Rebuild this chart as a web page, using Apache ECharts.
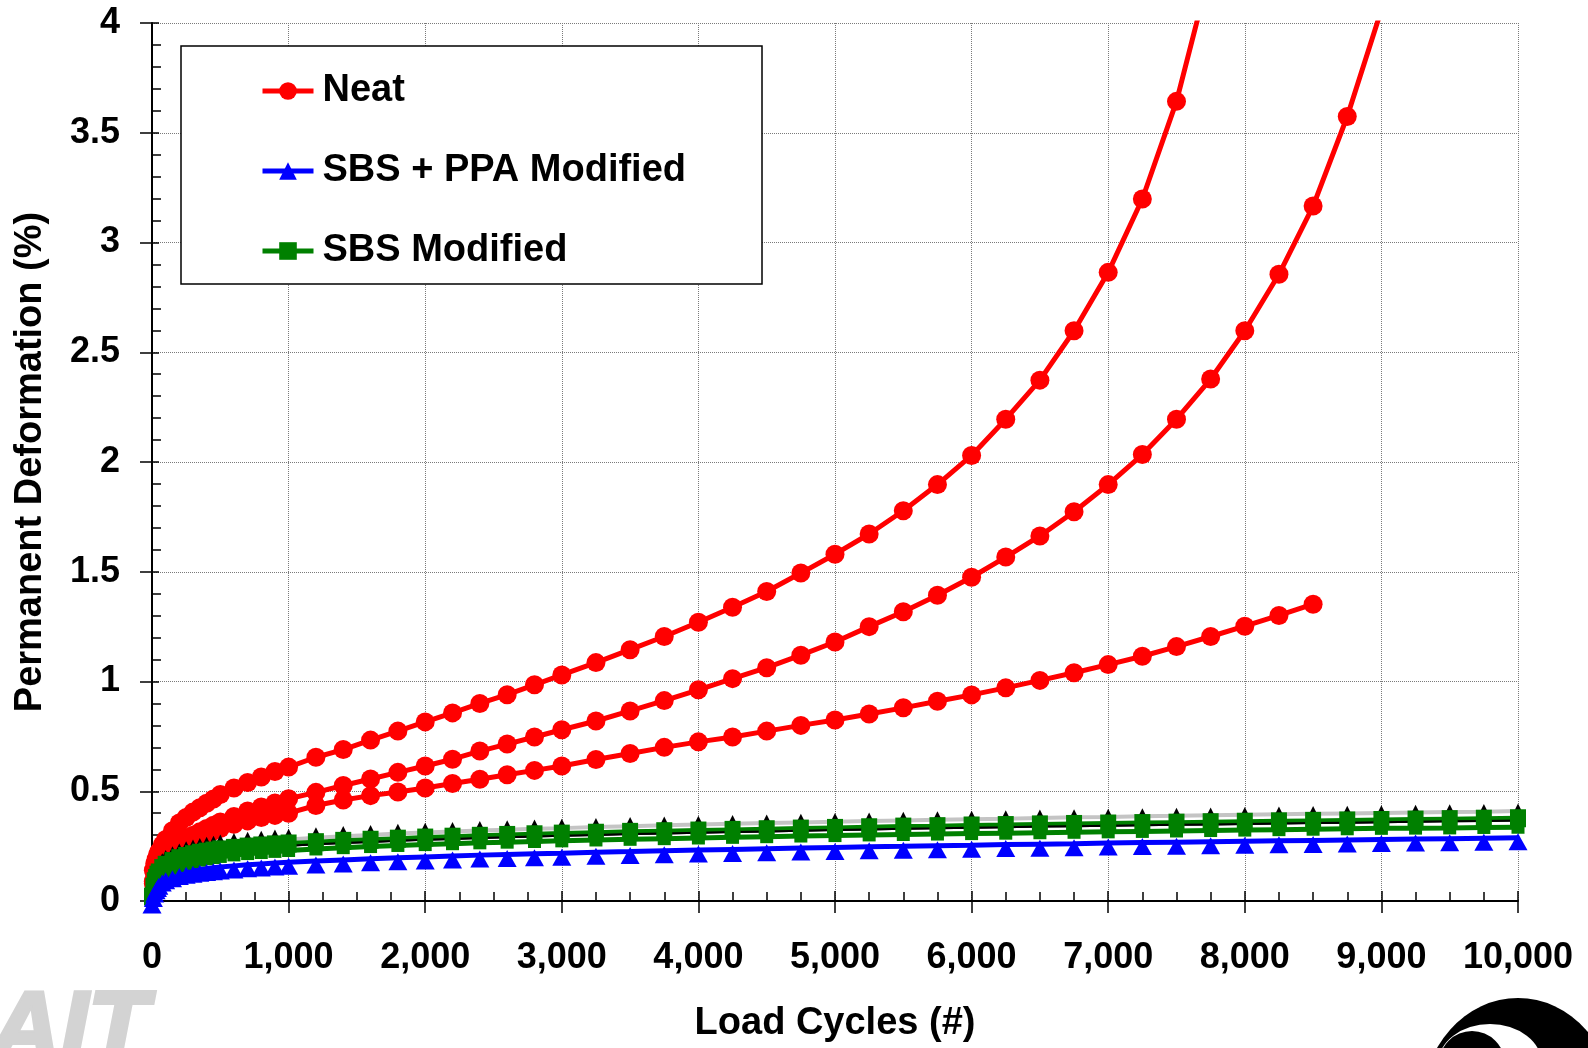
<!DOCTYPE html>
<html>
<head>
<meta charset="utf-8">
<title>Permanent Deformation vs Load Cycles</title>
<script src="https://cdn.jsdelivr.net/npm/echarts@6/dist/echarts.min.js"></script>
<style>
  html, body { margin: 0; padding: 0; background: #fff; }
  #chart { width: 1588px; height: 1048px; }
</style>
</head>
<body>
<div id="chart"></div>
<script>
// Load cycles at which readings were logged
const cycles = [
  0, 10, 20, 30, 40, 50, 75, 100, 150, 200, 250, 300, 350, 400, 450, 500, 600, 700, 800, 900, 1000,
  1200, 1400, 1600, 1800, 2000, 2200, 2400, 2600, 2800, 3000,
  3250, 3500, 3750, 4000, 4250, 4500, 4750, 5000, 5250, 5500, 5750, 6000, 6250, 6500, 6750, 7000,
  7250, 7500, 7750, 8000, 8250, 8500, 8750, 9000, 9250, 9500, 9750, 10000
];

// Neat binder, three replicates (values start at cycle 10)
const neatA = [
  0.14, 0.17, 0.19, 0.21, 0.225, 0.255, 0.28, 0.32, 0.355, 0.38, 0.405, 0.425, 0.445, 0.465, 0.485, 0.515, 0.54, 0.565, 0.59, 0.61,
  0.655, 0.69, 0.733, 0.774, 0.816, 0.857, 0.90, 0.94, 0.985, 1.03,
  1.086, 1.145, 1.205, 1.27, 1.338, 1.41, 1.494, 1.58, 1.672, 1.778, 1.897, 2.03, 2.195, 2.373, 2.598, 2.864, 3.198, 3.643, 4.25
];
const neatB = [
  0.09, 0.115, 0.13, 0.145, 0.16, 0.19, 0.21, 0.24, 0.265, 0.285, 0.30, 0.315, 0.33, 0.345, 0.36, 0.385, 0.41, 0.428, 0.447, 0.466,
  0.495, 0.526, 0.556, 0.586, 0.615, 0.646, 0.683, 0.715, 0.747, 0.78,
  0.82, 0.866, 0.913, 0.962, 1.013, 1.063, 1.12, 1.18, 1.25, 1.318, 1.393, 1.475, 1.567, 1.663, 1.773, 1.897,
  2.034, 2.195, 2.378, 2.598, 2.855, 3.166, 3.574, 4.06
];
const neatC = [
  0.08, 0.10, 0.12, 0.135, 0.145, 0.17, 0.19, 0.22, 0.245, 0.265, 0.28, 0.295, 0.31, 0.32, 0.33, 0.35, 0.365, 0.38, 0.39, 0.40,
  0.435, 0.46, 0.48, 0.497, 0.515, 0.535, 0.555, 0.575, 0.595, 0.615,
  0.645, 0.672, 0.70, 0.725, 0.747, 0.774, 0.80, 0.825, 0.852, 0.88, 0.91, 0.939, 0.971, 1.005, 1.04, 1.077,
  1.115, 1.159, 1.205, 1.252, 1.301, 1.352
];

// SBS + PPA modified binder
const sbsPpa = [
  0.00, 0.03, 0.05, 0.065, 0.075, 0.085, 0.10, 0.11, 0.12, 0.13, 0.135, 0.14, 0.145, 0.148, 0.152, 0.155, 0.16, 0.165, 0.169, 0.173, 0.176,
  0.182, 0.187, 0.192, 0.197, 0.201, 0.205, 0.209, 0.212, 0.215, 0.218,
  0.222, 0.225, 0.229, 0.232, 0.235, 0.238, 0.241, 0.244, 0.247, 0.249, 0.252, 0.254, 0.257, 0.259, 0.261, 0.264,
  0.266, 0.268, 0.27, 0.272, 0.274, 0.276, 0.278, 0.28, 0.282, 0.284, 0.286, 0.288
];
const sbsPpaB = [
  0.01, 0.055, 0.08, 0.095, 0.11, 0.12, 0.14, 0.155, 0.172, 0.185, 0.195, 0.203, 0.21, 0.215, 0.22, 0.225, 0.232, 0.238, 0.243, 0.248, 0.252,
  0.258, 0.264, 0.269, 0.274, 0.279, 0.283, 0.287, 0.291, 0.294, 0.297,
  0.301, 0.305, 0.308, 0.311, 0.314, 0.317, 0.32, 0.323, 0.326, 0.329, 0.331, 0.334, 0.336, 0.339, 0.341, 0.343,
  0.345, 0.347, 0.349, 0.351, 0.353, 0.355, 0.357, 0.359, 0.361, 0.363, 0.365, 0.367
];

// SBS modified binder
const sbs = [
  0.02, 0.065, 0.09, 0.105, 0.12, 0.13, 0.15, 0.165, 0.182, 0.195, 0.205, 0.213, 0.22, 0.225, 0.23, 0.235, 0.242, 0.248, 0.253, 0.258, 0.262,
  0.268, 0.274, 0.279, 0.284, 0.289, 0.293, 0.297, 0.301, 0.304, 0.307,
  0.311, 0.315, 0.318, 0.321, 0.324, 0.327, 0.33, 0.333, 0.336, 0.339, 0.341, 0.344, 0.346, 0.349, 0.351, 0.353,
  0.355, 0.357, 0.359, 0.361, 0.363, 0.365, 0.367, 0.369, 0.371, 0.373, 0.375, 0.377
];
const sbsB = [
  0.01, 0.04, 0.06, 0.075, 0.085, 0.095, 0.115, 0.13, 0.15, 0.162, 0.172, 0.18, 0.187, 0.193, 0.198, 0.203, 0.21, 0.216, 0.221, 0.226, 0.23,
  0.237, 0.243, 0.248, 0.253, 0.257, 0.261, 0.265, 0.268, 0.271, 0.274,
  0.278, 0.281, 0.284, 0.287, 0.29, 0.293, 0.296, 0.298, 0.301, 0.303, 0.305, 0.307, 0.309, 0.311, 0.313, 0.315,
  0.317, 0.319, 0.321, 0.323, 0.325, 0.327, 0.329, 0.331, 0.332, 0.333, 0.335, 0.336
];
const sbsC = [
  0.03, 0.08, 0.105, 0.12, 0.135, 0.145, 0.165, 0.18, 0.198, 0.21, 0.22, 0.228, 0.234, 0.24, 0.245, 0.25, 0.258, 0.264, 0.27, 0.275, 0.28,
  0.288, 0.295, 0.301, 0.307, 0.312, 0.317, 0.321, 0.325, 0.329, 0.332,
  0.337, 0.341, 0.345, 0.348, 0.352, 0.355, 0.358, 0.361, 0.364, 0.367, 0.37, 0.373, 0.375, 0.378, 0.381, 0.383,
  0.386, 0.388, 0.391, 0.393, 0.395, 0.397, 0.399, 0.401, 0.403, 0.405, 0.407, 0.41
];

const legendNames = ['Neat', 'SBS + PPA Modified', 'SBS Modified'];

const FONT = '"Liberation Sans", Arial, Helvetica, sans-serif';
const RED = '#ff0000', BLUE = '#0000ff', GREEN = '#008000', BLACK = '#000000', GREY = '#c4c4c4';

function pairs(xs, ys) {
  return ys.map((y, i) => [xs[i], y]);
}
const neatCycles = cycles.slice(1);

function lineSeries(name, data, color, symbol, symbolSize, extra) {
  return Object.assign({
    name: name,
    type: 'line',
    data: data,
    symbol: symbol,
    symbolSize: symbolSize,
    showSymbol: symbol !== 'none',
    clip: true,
    lineStyle: { color: color, width: 5 },
    itemStyle: { color: color },
    emphasis: { disabled: true },
    animation: false
  }, extra || {});
}

const chart = echarts.init(document.getElementById('chart'), null, { renderer: 'canvas' });

const tickStyle = { color: '#000', width: 1.5 };

const option = {
  backgroundColor: '#ffffff',
  animation: false,
  grid: { left: 152, right: 70, top: 23, bottom: 140, containLabel: false },
  legend: {
    data: legendNames,
    orient: 'vertical',
    left: 181,
    top: 46,
    padding: [26, 76, 14, 79],
    itemGap: 42,
    itemWidth: 51,
    itemHeight: 22,
    backgroundColor: '#ffffff',
    borderColor: '#000000',
    borderWidth: 1.5,
    borderRadius: 0,
    selectedMode: false,
    lineStyle: { width: 5 },
    textStyle: {
      fontFamily: FONT, fontWeight: 'bold', fontSize: 38, color: '#000',
      padding: [0, 0, 0, 4]
    }
  },
  xAxis: [
    {
      type: 'value', min: 0, max: 10000, interval: 1000, position: 'bottom',
      name: 'Load Cycles (#)', nameLocation: 'middle', nameGap: 104,
      nameTextStyle: { fontFamily: FONT, fontWeight: 'bold', fontSize: 38, color: '#000' },
      axisLine: { show: true, onZero: false, lineStyle: { color: '#000', width: 2 } },
      axisTick: { show: true, inside: false, length: 12, lineStyle: tickStyle },
      minorTick: { show: false },
      axisLabel: {
        margin: 39, fontFamily: FONT, fontWeight: 'bold', fontSize: 36, color: '#000',
        formatter: v => v.toLocaleString('en-US')
      },
      splitLine: { show: true, lineStyle: { color: '#7a7a7a', width: 1, type: 'dotted' } }
    },
    {
      type: 'value', min: 0, max: 10000, interval: 1000, position: 'bottom',
      axisLine: { show: false, onZero: false },
      axisTick: { show: true, inside: true, length: 10, lineStyle: tickStyle },
      minorTick: { show: true, splitNumber: 4, length: 9, lineStyle: tickStyle },
      axisLabel: { show: false },
      splitLine: { show: false }
    }
  ],
  yAxis: [
    {
      type: 'value', min: 0, max: 4, interval: 0.5, position: 'left',
      name: 'Permanent Deformation (%)', nameLocation: 'middle', nameGap: 102,
      nameTextStyle: { fontFamily: FONT, fontWeight: 'bold', fontSize: 38, color: '#000' },
      axisLine: { show: true, onZero: false, lineStyle: { color: '#000', width: 2 } },
      axisTick: { show: true, inside: false, length: 12, lineStyle: tickStyle },
      minorTick: { show: false },
      axisLabel: {
        margin: 32, fontFamily: FONT, fontWeight: 'bold', fontSize: 36, color: '#000'
      },
      splitLine: { show: true, lineStyle: { color: '#7a7a7a', width: 1, type: 'dotted' } }
    },
    {
      type: 'value', min: 0, max: 4, interval: 0.5, position: 'left',
      axisLine: { show: false, onZero: false },
      axisTick: { show: true, inside: true, length: 7, lineStyle: tickStyle },
      minorTick: { show: true, splitNumber: 5, length: 9, lineStyle: tickStyle },
      axisLabel: { show: false },
      splitLine: { show: false }
    }
  ],
  series: [
    lineSeries('Neat', pairs(neatCycles, neatA), RED, 'circle', 19),
    lineSeries('Neat', pairs(neatCycles, neatB), RED, 'circle', 19),
    lineSeries('Neat', pairs(neatCycles, neatC), RED, 'circle', 19),
    // upper envelope of the SBS group
    lineSeries('SBS Modified C', pairs(cycles, sbsC), GREY, 'none', 0, { lineStyle: { color: GREY, width: 4 } }),
    // second SBS + PPA replicate: triangles sit beneath the green squares
    lineSeries('SBS + PPA Modified B', pairs(cycles, sbsPpaB), BLACK, 'triangle', 16,
      { symbolOffset: [0, -9], lineStyle: { color: BLACK, width: 2 } }),
    lineSeries('SBS Modified B', pairs(cycles, sbsB), GREEN, 'rect', 13),
    lineSeries('SBS Modified', pairs(cycles, sbs), GREEN, 'rect', [16, 18]),
    // the second SBS + PPA replicate's line runs over the squares
    lineSeries('SBS + PPA Modified B line', pairs(cycles, sbsPpaB), BLACK, 'none', 0,
      { lineStyle: { color: BLACK, width: 2 } }),
    lineSeries('SBS + PPA Modified', pairs(cycles, sbsPpa), BLUE, 'triangle', [19, 17],
      { symbolOffset: [0, 4] })
  ],
  graphic: [
    {
      type: 'text', left: -12, top: 982, z: 0, silent: true,
      style: {
        text: 'AIT', font: 'italic bold 98px ' + FONT,
        fill: '#d3d3d3', stroke: '#d3d3d3', lineWidth: 4
      }
    },
    {
      type: 'circle', x: 1518, y: 1106, scaleX: 96 / 108, scaleY: 1, silent: true,
      shape: { cx: 0, cy: 0, r: 108 }, style: { fill: '#000' }
    },
    {
      type: 'circle', x: 1490, y: 1064, scaleX: 52 / 40, scaleY: 1, silent: true,
      shape: { cx: 0, cy: 0, r: 40 }, style: { fill: '#fff' }
    },
    {
      type: 'circle', x: 1472, y: 1064, scaleX: 33 / 33, scaleY: 1, silent: true,
      shape: { cx: 0, cy: 0, r: 33 }, style: { fill: '#000' }
    }
  ]
};

chart.setOption(option);
</script>
</body>
</html>
